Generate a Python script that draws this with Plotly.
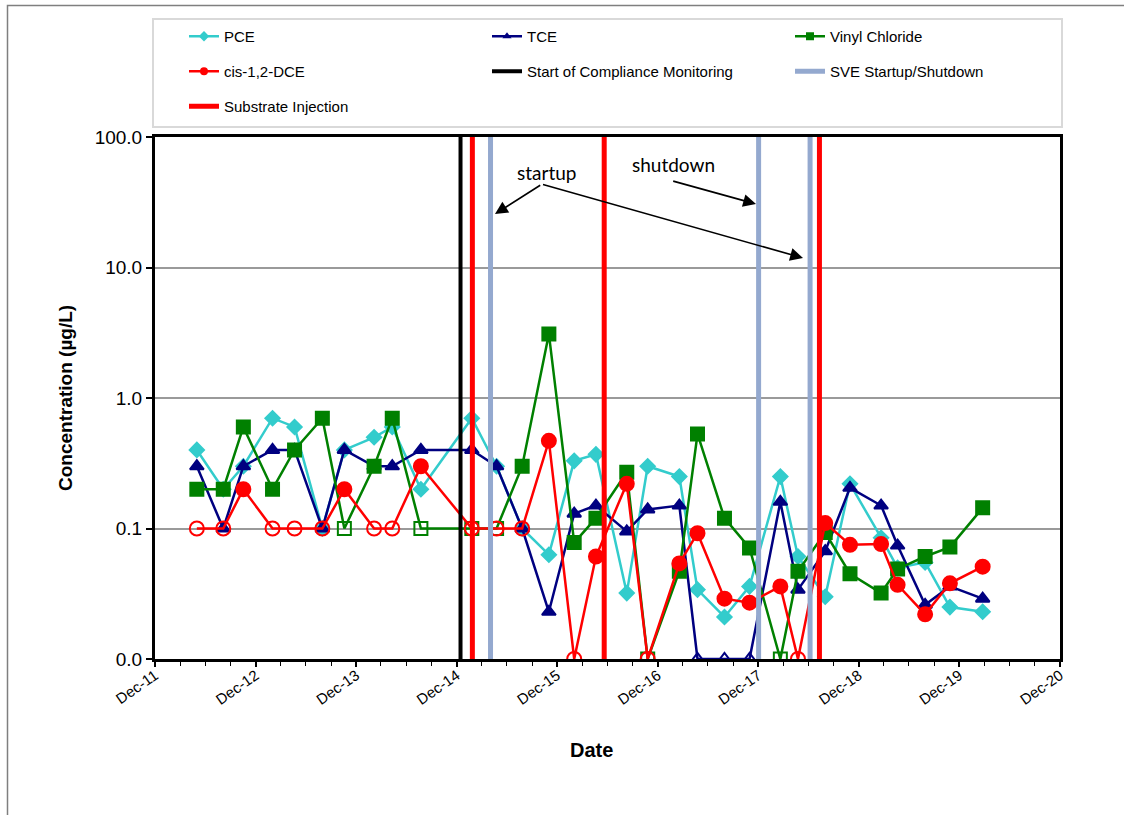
import plotly.graph_objects as go

# ---------------- data ----------------
dates = ['2012-05-01', '2012-08-05', '2012-10-17', '2013-01-31', '2013-04-21', '2013-07-31',
         '2013-10-19', '2014-02-04', '2014-04-11', '2014-07-24', '2015-01-25', '2015-04-25',
         '2015-07-27', '2015-11-01', '2016-02-01', '2016-04-20', '2016-08-10', '2016-10-25',
         '2017-02-17', '2017-04-24', '2017-07-31', '2017-10-30', '2018-02-19', '2018-04-24',
         '2018-08-01', '2018-10-30', '2019-02-20', '2019-04-21', '2019-07-30', '2019-10-28',
         '2020-02-24']

pce = [0.40, 0.20, 0.30, 0.70, 0.60, 0.10, 0.40, 0.50, 0.60, 0.20, 0.70, 0.30, 0.10, 0.063,
       0.33, 0.37, 0.032, 0.30, 0.25, 0.034, 0.021, 0.036, 0.25, 0.061, 0.030, 0.22, 0.085,
       0.050, 0.055, 0.025, 0.023]
pce_nd = [False] * 31

tce = [0.30, 0.10, 0.30, 0.40, 0.40, 0.10, 0.40, 0.30, 0.30, 0.40, 0.40, 0.30, 0.10, 0.023,
       0.13, 0.15, 0.095, 0.14, 0.15, 0.01, 0.01, 0.01, 0.16, 0.034, 0.067, 0.205, 0.15,
       0.074, 0.026, 0.036, 0.029]
tce_nd = [False] * 19 + [True, True, True] + [False] * 9

vc = [0.20, 0.20, 0.60, 0.20, 0.40, 0.70, 0.10, 0.30, 0.70, 0.10, 0.10, 0.10, 0.30, 3.1,
      0.078, 0.12, 0.27, 0.01, 0.047, 0.53, 0.12, 0.071, 0.01, 0.047, 0.093, 0.045, 0.032,
      0.049, 0.061, 0.072, 0.144]
vc_nd = [False, False, False, False, False, False, True, False, False, True, True, True,
         False, False, False, False, False, True, False, False, False, False, True, False,
         False, False, False, False, False, False, False]

dce = [0.10, 0.10, 0.20, 0.10, 0.10, 0.10, 0.20, 0.10, 0.10, 0.30, 0.10, 0.10, 0.10, 0.47,
       0.01, 0.061, 0.22, 0.01, 0.054, 0.092, 0.029, 0.027, 0.036, 0.01, 0.11, 0.075, 0.076,
       0.037, 0.022, 0.038, 0.051]
dce_nd = [True, True, False, True, True, True, False, True, True, False, True, True, True,
          False, True, False, False, True, False, False, False, False, False, True, False,
          False, False, False, False, False, False]

compliance_start = ['2014-12-15']
sve_events = ['2015-04-03', '2017-12-02', '2018-06-07']
injections = ['2015-01-27', '2016-05-20', '2018-07-11']

year_ticks = ['2011-12-01', '2012-12-01', '2013-12-01', '2014-12-01', '2015-12-01',
              '2016-12-01', '2017-12-01', '2018-12-01', '2019-12-01', '2020-12-01']
year_labels = ['Dec-11', 'Dec-12', 'Dec-13', 'Dec-14', 'Dec-15', 'Dec-16', 'Dec-17',
               'Dec-18', 'Dec-19', 'Dec-20']
y_ticks = [0.01, 0.1, 1, 10, 100]
y_labels = ['0.0', '0.1', '1.0', '10.0', '100.0']

# ---------------- styling / geometry ----------------
C_PCE = '#33CCCC'
C_TCE = '#000080'
C_VC = '#008000'
C_DCE = '#FF0000'
C_SVE = '#94A9CF'
FONT = 'Liberation Sans, Arial, sans-serif'

W, HT = 1124, 815
L, R, T, B = 155, 1060, 137, 659   # plot area in page pixels
PW, PH = R - L, B - T


def px_x(p):
    return (p - L) / PW


def px_y(p):
    return (B - p) / PH


fig = go.Figure()


def series(name, y, nd, color, sym, size):
    symbols = [sym + '-open' if f else sym for f in nd]
    fig.add_trace(go.Scatter(
        x=dates, y=y, mode='lines+markers', name=name, showlegend=False,
        line=dict(color=color, width=2.5),
        marker=dict(symbol=symbols, size=size, color=color,
                    line=dict(color=color, width=2)),
    ))


series('PCE', pce, pce_nd, C_PCE, 'diamond', 11)
series('TCE', tce, tce_nd, C_TCE, 'triangle-up', 12)
series('Vinyl Chloride', vc, vc_nd, C_VC, 'square', 13)
series('cis-1,2-DCE', dce, dce_nd, C_DCE, 'circle', 14)


def vlines(xs):
    xx, yy = [], []
    for d in xs:
        xx += [d, d, None]
        yy += [y_ticks[0], y_ticks[-1], None]
    return xx, yy


x0, y0 = vlines(compliance_start)
fig.add_trace(go.Scatter(x=x0, y=y0, mode='lines', name='Start of Compliance Monitoring',
                         line=dict(color='black', width=4), legend='legend2',
                         legendgroup='g5', legendrank=2))
x1, y1 = vlines(sve_events)
fig.add_trace(go.Scatter(x=x1, y=y1, mode='lines', name='SVE Startup/Shutdown',
                         line=dict(color=C_SVE, width=5), legend='legend3',
                         legendgroup='g6', legendrank=2))
x2, y2 = vlines(injections)
fig.add_trace(go.Scatter(x=x2, y=y2, mode='lines', name='Substrate Injection',
                         line=dict(color=C_DCE, width=5), legend='legend',
                         legendgroup='g7', legendrank=3))

# legend samples for the concentration series
for name, color, sym, lg, rank, grp in [('PCE', C_PCE, 'diamond', 'legend', 1, 'g1'),
                                        ('TCE', C_TCE, 'triangle-up', 'legend2', 1, 'g2'),
                                        ('Vinyl Chloride', C_VC, 'square', 'legend3', 1, 'g3'),
                                        ('cis-1,2-DCE', C_DCE, 'circle', 'legend', 2, 'g4')]:
    fig.add_trace(go.Scatter(x=[None], y=[None], mode='lines+markers', name=name,
                             line=dict(color=color, width=2.5),
                             marker=dict(symbol=sym, size=8, color=color),
                             legend=lg, legendrank=rank, legendgroup=grp))

leg_common = dict(orientation='v', xanchor='left', yanchor='top', y=px_y(20),
                  bgcolor='rgba(0,0,0,0)', traceorder='grouped', tracegroupgap=12.5,
                  font=dict(family=FONT, size=15, color='black'))

fig.update_layout(
    width=W, height=HT,
    margin=dict(l=L, r=W - R, t=T, b=HT - B),
    paper_bgcolor='white', plot_bgcolor='white',
    font=dict(family=FONT, color='black'),
    legend=dict(leg_common, x=px_x(184)),
    legend2=dict(leg_common, x=px_x(487)),
    legend3=dict(leg_common, x=px_x(790)),
    xaxis=dict(
        type='date', range=[year_ticks[0], year_ticks[-1]],
        tickvals=year_ticks, ticktext=year_labels, tickangle=-35,
        tickfont=dict(size=15, family=FONT),
        ticks='outside', ticklen=5, tickwidth=1.5, tickcolor='black',
        ticklabelstandoff=-6,
        showgrid=False, zeroline=False,
        showline=True, linecolor='black', linewidth=3, mirror=True,
        minor=dict(dtick='M3', tick0=year_ticks[0], ticks='outside', ticklen=4,
                   tickcolor='black', tickwidth=1, showgrid=False),
    ),
    yaxis=dict(
        type='log', range=[-2, 2],
        tickvals=y_ticks, ticktext=y_labels,
        tickfont=dict(size=19, family=FONT),
        ticks='outside', ticklen=6, tickwidth=1.5, tickcolor='black',
        showgrid=True, gridcolor='#9a9a9a', gridwidth=1.5, zeroline=False,
        showline=True, linecolor='black', linewidth=3, mirror=True,
    ),
    shapes=[
        dict(type='rect', xref='paper', yref='paper', x0=px_x(153), x1=px_x(1062),
             y0=px_y(127), y1=px_y(19), line=dict(color='#d9d9d9', width=2)),
        dict(type='rect', xref='paper', yref='paper', x0=px_x(7.5), x1=px_x(1140),
             y0=px_y(830), y1=px_y(5.5), line=dict(color='#7f7f7f', width=1.5)),
    ],
    annotations=[
        dict(text='<b>Concentration (µg/L)</b>', xref='paper', yref='paper',
             x=px_x(65), y=0.5, xanchor='center', yanchor='middle', textangle=-90,
             showarrow=False, font=dict(size=19, family=FONT)),
        dict(text='<b>Date</b>', xref='paper', yref='paper', x=px_x(591), y=px_y(750),
             xanchor='center', yanchor='middle',
             showarrow=False, font=dict(size=20, family=FONT)),
        dict(text='startup', xref='paper', yref='paper', x=px_x(546), y=px_y(172),
             xanchor='center', yanchor='middle',
             showarrow=False, font=dict(size=19, family='Lato, sans-serif')),
        dict(text='shutdown', xref='paper', yref='paper', x=px_x(673), y=px_y(164),
             xanchor='center', yanchor='middle',
             showarrow=False, font=dict(size=19, family='Lato, sans-serif')),
        dict(text='', xref='paper', yref='paper', x=px_x(495), y=px_y(214),
             ax=46.7, ay=-29.7, showarrow=True, arrowhead=2, arrowsize=1.6,
             arrowwidth=1.6, arrowcolor='black'),
        dict(text='', xref='paper', yref='paper', x=px_x(803), y=px_y(258),
             ax=-261.5, ay=-74, showarrow=True, arrowhead=2, arrowsize=1.6,
             arrowwidth=1.6, arrowcolor='black'),
        dict(text='', xref='paper', yref='paper', x=px_x(756), y=px_y(204),
             ax=-84.3, ay=-23.3, showarrow=True, arrowhead=2, arrowsize=1.6,
             arrowwidth=1.6, arrowcolor='black'),
    ],
)

fig.write_html('out.html', config={'displayModeBar': False},
               post_script="document.body.style.margin='0px';document.body.style.overflow='hidden';")
